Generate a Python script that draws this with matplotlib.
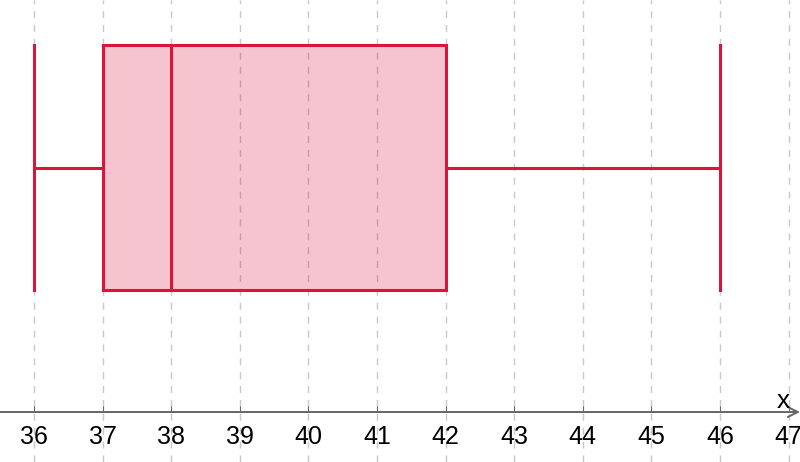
import matplotlib.pyplot as plt

# five-number summary
values = [36, 37, 38, 42, 46]
ticks = list(range(36, 48))

line_color = '#DC143C'

fig = plt.figure(figsize=(8, 4.62), dpi=100)
ax = fig.add_axes([0, 0, 1, 1])
ax.set_xlim(35.504, 47.166)
ax.set_ylim(-2.4, 1.371)

for t in ticks:
    ax.axvline(t, color='#c8c8c8', lw=1, ls=(0, (5, 5)), zorder=0)

bp = ax.boxplot([values], vert=False, positions=[0], widths=2, capwidths=[2],
                whis=(0, 100), patch_artist=True, showfliers=False,
                medianprops=dict(color=line_color, lw=2.2),
                whiskerprops=dict(color=line_color, lw=2.2),
                capprops=dict(color=line_color, lw=2.2),
                boxprops=dict(edgecolor=line_color, lw=2.2))
for b in bp['boxes']:
    b.set_facecolor((220/255, 20/255, 60/255, 0.25))

for s in ['top', 'right', 'left']:
    ax.spines[s].set_visible(False)
ax.spines['bottom'].set_position(('data', -1.992))
ax.spines['bottom'].set_visible(False)
ax.annotate('', xy=(47.166, -1.992), xytext=(35.504, -1.992),
            arrowprops=dict(arrowstyle='->', color='#666666', lw=1.4,
                            mutation_scale=18, shrinkA=0, shrinkB=0))
ax.set_yticks([])
ax.set_xticks(ticks)
ax.tick_params(axis='x', direction='in', length=4, color='#666666',
               labelsize=18, pad=9)
for lab in ax.get_xticklabels():
    lab.set_fontfamily('Liberation Sans')
ax.text(46.93, -1.96, 'x', fontsize=19, family='Liberation Sans',
        ha='center', va='baseline')

fig.savefig('out.png', dpi=100)
